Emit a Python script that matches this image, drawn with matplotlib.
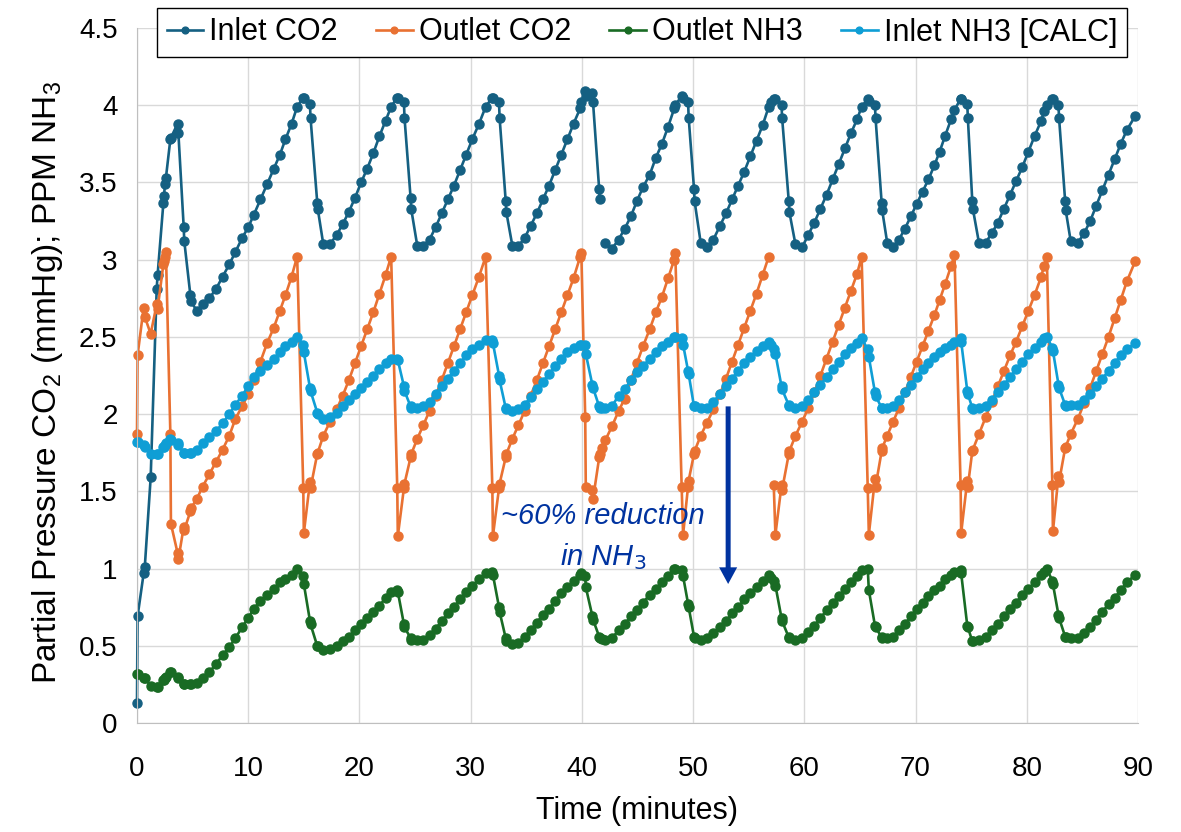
import matplotlib
matplotlib.use("Agg")
import matplotlib.pyplot as plt

nan = float("nan")

# ---- data (minutes, mmHg / ppm) ----
time_min = [
    0.0, 0.05, 0.6, 0.7, 1.23, 1.77, 1.85, 2.37, 2.42, 2.52, 2.6, 3.0, 3.05, 3.65, 3.72,
    4.2, 4.25, 4.8, 4.85, 5.37, 5.9, 6.5, 7.1, 7.7, 8.3, 8.85, 9.45, 10.0, 10.5, 11.1,
    11.7, 12.3, 12.85, 13.35, 13.9,
    14.4, 14.95, 15.0, 15.55, 15.6, 16.2, 16.25, 16.75, 17.35, 17.95, 18.5, 19.05, 19.6,
    20.15, 20.7, 21.25, 21.8, 22.35,
    22.85, 23.4, 23.45, 24.0, 24.05, 24.6, 24.65, 25.2, 25.75, 26.3, 26.85, 27.4, 27.95,
    28.5, 29.05, 29.6, 30.15, 30.75,
    31.35, 31.95, 32.0, 32.55, 32.6, 33.15, 33.2, 33.75, 34.3, 34.85, 35.4, 35.95, 36.5,
    37.05, 37.6, 38.15, 38.7, 39.25,
    39.85, 39.95, 40.3, 40.35, 40.95, 41.0, 41.55, 41.6, 41.85, 42.1, 42.7, 43.3, 43.85,
    44.4, 44.95, 45.5, 46.1, 46.65, 47.2, 47.75,
    48.3, 48.4, 48.97, 49.1, 49.55, 49.6, 50.08, 50.13, 50.68, 51.22, 51.82, 52.42, 52.96,
    53.5, 54.05, 54.6, 55.15, 55.7, 56.25,
    56.8, 57.0, 57.25, 57.4, 57.95, 58.0, 58.6, 58.65, 59.2, 59.8, 60.35, 60.9, 61.45,
    62.0, 62.55, 63.1, 63.65, 64.2, 64.75,
    65.15, 65.7, 65.8, 66.35, 66.4, 66.95, 67.0, 67.45, 67.98, 68.51, 69.04, 69.57, 70.1,
    70.63, 71.16, 71.69, 72.17, 72.65,
    73.2, 73.5, 74.05, 74.1, 74.65, 74.7, 75.1, 75.15, 75.7, 76.3, 76.85, 77.4, 77.95,
    78.5, 79.05, 79.6, 80.15, 80.7,
    81.3, 81.55, 81.8, 82.3, 82.35, 82.85, 82.9, 83.45, 83.5, 83.95, 84.6, 85.15, 85.7,
    86.25, 86.8, 87.35, 87.9, 88.45, 89.0, 89.75,
]

inlet_co2 = [
    0.13, 0.69, 0.97, 1.01, 1.59, 2.81, 2.90, 3.37, 3.41, 3.49, 3.53, 3.78, 3.79, 3.88, 3.82,
    3.21, 3.12, 2.77, 2.73, 2.67, 2.71, 2.75, 2.81, 2.89, 2.97, 3.05, 3.14, 3.21, 3.29, 3.39,
    3.49, 3.59, 3.68, 3.78, 3.88,
    3.99, 4.05, 4.05, 4.01, 3.92, 3.37, 3.33, 3.10, 3.10, 3.16, 3.23, 3.31, 3.40,
    3.50, 3.59, 3.69, 3.80, 3.90,
    3.99, 4.05, 4.05, 4.02, 3.92, 3.40, 3.33, 3.09, 3.09, 3.13, 3.21, 3.30, 3.39,
    3.48, 3.58, 3.68, 3.78, 3.88,
    3.99, 4.05, 4.05, 4.02, 3.92, 3.38, 3.31, 3.09, 3.09, 3.14, 3.22, 3.30, 3.39,
    3.48, 3.58, 3.68, 3.78, 3.88,
    3.98, 4.02, 4.09, 4.06, 4.08, 4.02, 3.46, 3.39, nan, 3.11, 3.07, 3.13, 3.20,
    3.28, 3.38, 3.47, 3.55, 3.66, 3.75, 3.86,
    3.98, 4.00, 4.06, 4.05, 4.02, 3.92, 3.46, 3.38, 3.11, 3.08, 3.13, 3.22, 3.30,
    3.39, 3.48, 3.57, 3.67, 3.77, 3.87,
    3.99, 4.02, 4.04, 4.04, 4.00, 3.92, 3.38, 3.31, 3.10, 3.08, 3.16, 3.24, 3.33,
    3.42, 3.52, 3.62, 3.72, 3.82, 3.91,
    3.99, 4.04, 4.03, 4.00, 3.92, 3.37, 3.32, 3.11, 3.08, 3.13, 3.20, 3.28, 3.36,
    3.44, 3.52, 3.61, 3.70, 3.80,
    3.91, 3.97, 4.04, 4.04, 4.01, 3.92, 3.38, 3.33, 3.11, 3.11, 3.17, 3.24, 3.33,
    3.42, 3.51, 3.60, 3.70, 3.80,
    3.90, 3.96, 4.00, 4.04, 4.04, 4.00, 3.92, 3.38, 3.32, 3.12, 3.11, 3.17, 3.25,
    3.35, 3.45, 3.55, 3.65, 3.75, 3.84, 3.93,
]

outlet_co2 = [
    1.87, 2.38, 2.69, 2.63, 2.52, 2.71, 2.68, 2.97, 2.99, 3.02, 3.05, 1.87, 1.29, 1.10, 1.06,
    1.27, 1.25, 1.37, 1.39, 1.45, 1.53, 1.61, 1.69, 1.77, 1.86, 1.97, 2.05, 2.13, 2.22, 2.34,
    2.46, 2.56, 2.67, 2.77, 2.89,
    3.02, 1.52, 1.23, 1.56, 1.52, 1.74, 1.75, 1.86, 1.95, 2.03, 2.12, 2.22, 2.33,
    2.44, 2.55, 2.66, 2.78, 2.90,
    3.02, 1.52, 1.21, 1.52, 1.55, 1.72, 1.74, 1.84, 1.93, 2.02, 2.12, 2.22, 2.33,
    2.44, 2.55, 2.66, 2.77, 2.89,
    3.02, 1.52, 1.21, 1.52, 1.55, 1.72, 1.74, 1.84, 1.93, 2.02, 2.12, 2.22, 2.33,
    2.44, 2.55, 2.66, 2.77, 2.88,
    3.02, 3.04, 1.98, 1.53, 1.51, 1.45, 1.72, 1.74, 1.78, 1.83, 1.92, 2.02, 2.10,
    2.22, 2.33, 2.44, 2.55, 2.66, 2.76, 2.88,
    3.00, 3.04, 1.53, 1.22, 1.53, 1.57, 1.74, 1.76, 1.86, 1.94, 2.03, 2.13, 2.23,
    2.34, 2.45, 2.56, 2.67, 2.78, 2.90,
    3.02, nan, 1.54, 1.22, 1.54, 1.51, 1.74, 1.76, 1.86, 1.95, 2.04, 2.14, 2.25,
    2.36, 2.47, 2.58, 2.69, 2.80, 2.91,
    3.02, 1.52, 1.22, 1.58, 1.53, 1.76, 1.78, 1.86, 1.95, 2.04, 2.14, 2.24, 2.34,
    2.44, 2.54, 2.64, 2.74, 2.84,
    2.96, 3.03, 1.54, 1.23, 1.57, 1.53, 1.76, 1.77, 1.87, 1.98, 2.08, 2.18, 2.28,
    2.38, 2.47, 2.57, 2.67, 2.77,
    2.89, 2.96, 3.02, 1.54, 1.24, 1.60, 1.56, 1.78, 1.79, 1.87, 1.97, 2.07, 2.17,
    2.28, 2.39, 2.50, 2.62, 2.74, 2.86, 2.99,
]

outlet_nh3 = [
    0.32, 0.32, 0.29, 0.29, 0.24, 0.23, 0.23, 0.28, 0.28, 0.29, 0.30, 0.33, 0.33, 0.30, 0.29,
    0.25, 0.25, 0.25, 0.25, 0.26, 0.29, 0.33, 0.38, 0.44, 0.49, 0.55, 0.62, 0.68, 0.74, 0.79,
    0.83, 0.87, 0.91, 0.93, 0.96,
    1.00, 0.95, 0.90, 0.66, 0.64, 0.50, 0.50, 0.47, 0.48, 0.50, 0.53, 0.56, 0.60,
    0.64, 0.68, 0.72, 0.76, 0.81,
    0.85, 0.86, 0.85, 0.64, 0.62, 0.55, 0.54, 0.54, 0.54, 0.57, 0.61, 0.66, 0.71,
    0.75, 0.80, 0.85, 0.89, 0.93,
    0.97, 0.98, 0.96, 0.75, 0.72, 0.55, 0.53, 0.51, 0.52, 0.56, 0.60, 0.65, 0.70,
    0.74, 0.79, 0.84, 0.88, 0.92,
    0.96, 0.97, 0.95, 0.88, 0.69, 0.67, 0.56, 0.55, 0.545, 0.54, 0.55, 0.60, 0.64,
    0.69, 0.73, 0.78, 0.83, 0.87, 0.91, 0.95,
    1.00, 1.00, 0.99, 0.95, 0.77, 0.75, 0.56, 0.55, 0.54, 0.55, 0.58, 0.62, 0.66,
    0.71, 0.75, 0.80, 0.84, 0.88, 0.92,
    0.96, 0.94, 0.92, 0.89, 0.68, 0.66, 0.555, 0.55, 0.54, 0.55, 0.59, 0.63, 0.68,
    0.73, 0.78, 0.82, 0.87, 0.91, 0.95,
    0.99, 1.00, 0.86, 0.63, 0.62, 0.555, 0.55, 0.55, 0.56, 0.60, 0.64, 0.69, 0.74,
    0.78, 0.82, 0.86, 0.89, 0.93,
    0.96, 0.98, 0.99, 0.97, 0.63, 0.62, 0.53, 0.53, 0.54, 0.56, 0.60, 0.64, 0.69,
    0.74, 0.78, 0.83, 0.87, 0.91,
    0.96, 0.98, 1.00, 0.92, 0.90, 0.70, 0.68, 0.56, 0.555, 0.55, 0.55, 0.58, 0.62,
    0.67, 0.72, 0.77, 0.81, 0.86, 0.91, 0.96,
]

inlet_nh3_calc = [
    1.82, 1.82, 1.80, 1.79, 1.74, 1.74, 1.74, 1.79, 1.79, 1.80, 1.81, 1.84, 1.83, 1.81, 1.80,
    1.75, 1.75, 1.75, 1.75, 1.77, 1.81, 1.85, 1.89, 1.94, 2.00, 2.06, 2.12, 2.18, 2.24, 2.28,
    2.32, 2.36, 2.40, 2.44, 2.47,
    2.50, 2.45, 2.40, 2.17, 2.15, 2.01, 2.00, 1.97, 1.98, 2.01, 2.05, 2.09, 2.13,
    2.17, 2.21, 2.25, 2.29, 2.33,
    2.36, 2.36, 2.35, 2.18, 2.15, 2.05, 2.04, 2.04, 2.05, 2.08, 2.13, 2.18, 2.23,
    2.28, 2.33, 2.38, 2.42, 2.45,
    2.48, 2.48, 2.46, 2.25, 2.22, 2.04, 2.03, 2.02, 2.03, 2.06, 2.11, 2.16, 2.21,
    2.26, 2.31, 2.36, 2.40, 2.43,
    2.45, 2.45, 2.45, 2.39, 2.19, 2.17, 2.05, 2.04, 2.04, 2.04, 2.05, 2.12, 2.16,
    2.22, 2.27, 2.31, 2.36, 2.40, 2.44, 2.47,
    2.50, 2.50, 2.49, 2.45, 2.28, 2.26, 2.05, 2.05, 2.04, 2.04, 2.08, 2.13, 2.18,
    2.23, 2.28, 2.33, 2.37, 2.41, 2.44,
    2.47, 2.45, 2.42, 2.39, 2.18, 2.16, 2.06, 2.05, 2.04, 2.05, 2.09, 2.14, 2.19,
    2.24, 2.29, 2.34, 2.39, 2.43, 2.46,
    2.49, 2.42, 2.37, 2.14, 2.12, 2.04, 2.04, 2.04, 2.05, 2.09, 2.14, 2.19, 2.24,
    2.29, 2.33, 2.37, 2.40, 2.43,
    2.45, 2.47, 2.49, 2.47, 2.15, 2.13, 2.04, 2.03, 2.04, 2.05, 2.09, 2.14, 2.19,
    2.24, 2.29, 2.34, 2.39, 2.43,
    2.47, 2.49, 2.50, 2.43, 2.41, 2.19, 2.17, 2.06, 2.05, 2.06, 2.06, 2.09, 2.13,
    2.18, 2.23, 2.28, 2.33, 2.38, 2.42, 2.46,
]

series_names = ["Inlet CO2", "Outlet CO2", "Outlet NH3", "Inlet NH3 [CALC]"]
series_colors = ["#156082", "#E97132", "#196B24", "#0F9ED5"]

x_ticks = [0, 10, 20, 30, 40, 50, 60, 70, 80, 90]
y_ticks = [0, 0.5, 1, 1.5, 2, 2.5, 3, 3.5, 4, 4.5]
y_tick_labels = ["0", "0.5", "1", "1.5", "2", "2.5", "3", "3.5", "4", "4.5"]

# ---- plot ----
plt.rcParams["font.family"] = ["Liberation Sans", "DejaVu Sans"]
plt.rcParams["mathtext.fontset"] = "custom"
plt.rcParams["mathtext.it"] = "Liberation Sans:italic"
plt.rcParams["mathtext.default"] = "regular"

W, H = 1181, 832
fig = plt.figure(figsize=(W / 100, H / 100), dpi=100)
ax = fig.add_axes([137 / W, 1 - 723 / H, (1138 - 137) / W, (723 - 28) / H])

all_series = [inlet_co2, outlet_co2, outlet_nh3, inlet_nh3_calc]
for vals, name, col in zip(all_series, series_names, series_colors):
    ax.plot(time_min, vals, color=col, lw=1.9, marker="o", markersize=6.5,
            markeredgecolor=col, label=name, clip_on=False)

ax.set_xlim(0, 90)
ax.set_ylim(0, 4.5)
ax.set_xticks(x_ticks)
ax.set_yticks(y_ticks)
ax.set_yticklabels(y_tick_labels)
ax.tick_params(axis="both", length=0, labelsize=20)
ax.tick_params(axis="x", pad=24)
ax.tick_params(axis="y", pad=14)
ax.grid(True, color="#D9D9D9", lw=1)
ax.set_axisbelow(True)
for s in ["top", "right"]:
    ax.spines[s].set_visible(False)
for s in ["left", "bottom"]:
    ax.spines[s].set_color("#BFBFBF")

ax.set_xlabel("Time (minutes)", fontsize=22)
ax.xaxis.set_label_coords(0.5, -0.105)
ax.set_ylabel("Partial Pressure CO$_2$ (mmHg); PPM NH$_3$", fontsize=24)
ax.yaxis.set_label_coords(-0.072, 0.49)

# annotation + arrow
note_color = "#0033A0"
ax.text(41.9, 1.34, "~60% reduction", ha="center", va="center", fontsize=21,
        style="italic", color=note_color)
ax.text(41.9, 1.08, "in NH$_{\\mathit{3}}$", ha="center", va="center", fontsize=21,
        style="italic", color=note_color)
ax.annotate("", xy=(53.15, 0.90), xytext=(53.15, 2.05),
            arrowprops=dict(facecolor=note_color, edgecolor="none", width=3.6,
                            headwidth=13, headlength=12, shrink=0))

leg = ax.legend(loc="center", bbox_to_anchor=(642 / W, 1 - 32.5 / H),
                bbox_transform=fig.transFigure, ncol=4, fontsize=22,
                frameon=True, fancybox=False, framealpha=1, edgecolor="black",
                handlelength=1.2, handletextpad=0.2, columnspacing=1.25,
                borderpad=0.3, markerscale=0.75)
leg.get_frame().set_linewidth(1.0)

fig.savefig("out.png", dpi=100)
